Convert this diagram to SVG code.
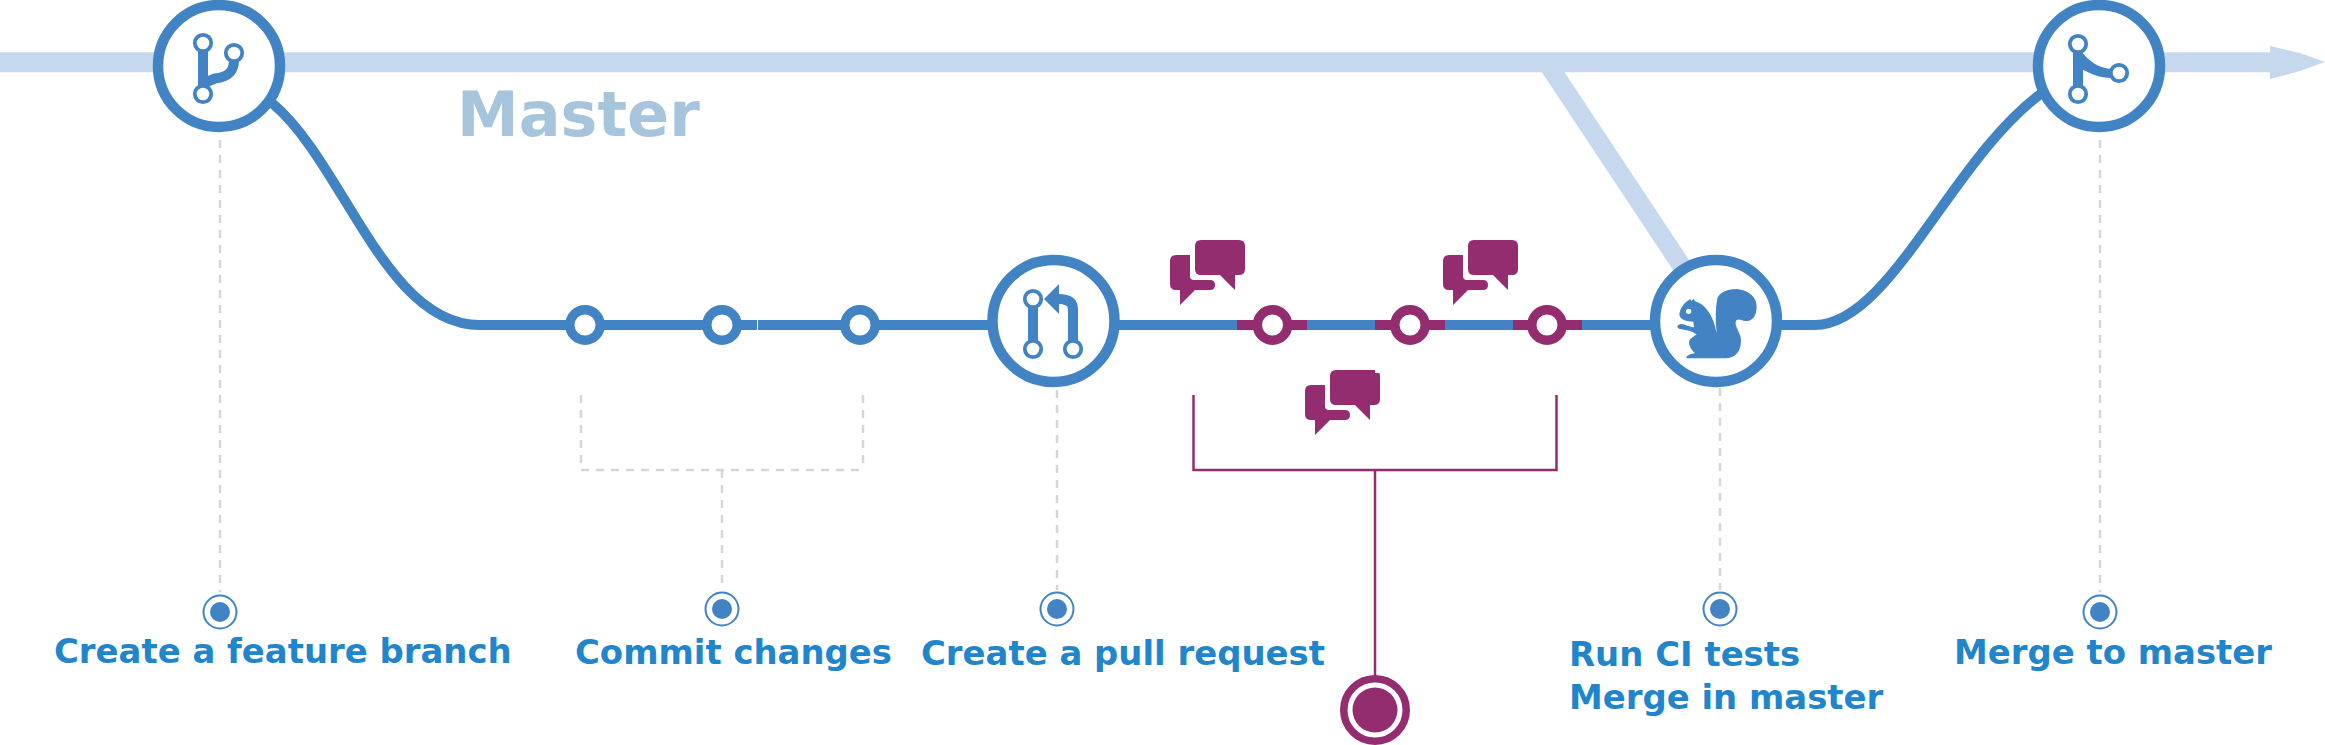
<svg xmlns="http://www.w3.org/2000/svg" width="2325" height="745" viewBox="0 0 2325 745">
<defs>
<style>
.hub{fill:#fff;stroke:#4283c4;stroke-width:10.5}
.c{fill:#fff;stroke:#4283c4;stroke-width:9.4}
.p{fill:#fff;stroke:#932d70;stroke-width:9.4}
.ic{fill:none;stroke:#4283c4;stroke-width:10}
.ico{fill:#fff;stroke:#4283c4;stroke-width:3.800}
.dash{fill:none;stroke:#d6d6d6;stroke-width:2.5;stroke-dasharray:8 7}
.pl{fill:none;stroke:#932d70;stroke-width:2.5}
.tring{fill:#fff;stroke:#4283c4;stroke-width:2}
.tdot{fill:#4283c4}
.lab{font-family:"DejaVu Sans",sans-serif;font-weight:700;font-size:33.9px;fill:#2185cb}
</style>
<g id="chat"><path fill="#932d70" d="M1176 255H1190V276Q1190 280 1194 280H1210Q1215 280 1215 285Q1215 290 1210 290H1195L1180 305V290H1176Q1170 290 1170 284V261Q1170 255 1176 255Z"/><path fill="#932d70" d="M1201 240H1239Q1245 240 1245 246V269Q1245 275 1239 275H1235V290L1220 275H1201Q1195 275 1195 269V246Q1195 240 1201 240Z"/></g>
</defs>
<g id="connectors">
<path fill="none" stroke="#c6d8ee" stroke-width="18.8" d="M1546.400 62L1691 280"/>
<path fill="none" stroke="#c6d8ee" stroke-width="20" d="M0 62.300H2272"/>
<path fill="#c6d8ee" d="M2270 46L2300 53L2325 62L2300 71L2270 79Z"/>
<path fill="none" stroke="#4283c4" stroke-width="10" d="M272 103C344 163 385 325 480 325H1000"/>
<path fill="none" stroke="#4283c4" stroke-width="10" d="M1100 325H1815C1890 325 1952 158 2042 93"/>
<path stroke="#fff" stroke-width="1" d="M757.500 320V330"/>
<path fill="none" stroke="#932d70" stroke-width="10" d="M1237 325H1307M1375 325H1445M1513 325H1582"/>
<path class="dash" d="M220 140V592"/>
<path class="dash" d="M581 395V470H863M863 395V470M722 470V590"/>
<path class="dash" d="M1057 390V590"/>
<path class="dash" d="M1720 388V590"/>
<path class="dash" d="M2100 140V592"/>
<path class="pl" d="M1193.500 395V470H1556.500V395M1375 470V680"/>
</g>
<g id="node-branch"><circle class="hub" cx="219" cy="66" r="61"/><path class="ic" d="M203 50V88"/><path class="ic" d="M204 83L215 78.500C228 77 234 72 234 60"/><circle class="ico" cx="203" cy="43" r="8.200"/><circle class="ico" cx="203" cy="94" r="8.200"/><circle class="ico" cx="234" cy="53" r="8.200"/></g>
<g id="commit-1"><circle class="c" cx="585" cy="325" r="15.200"/></g>
<g id="commit-2"><circle class="c" cx="722" cy="325" r="15.200"/></g>
<g id="commit-3"><circle class="c" cx="860" cy="325" r="15.200"/></g>
<g id="node-pr"><circle class="hub" cx="1053.500" cy="321" r="61"/><path class="ic" d="M1033 305V343M1073 343V309Q1073 299 1058 299"/><path fill="#4283c4" d="M1044 299L1059 284V314Z"/><circle class="ico" cx="1033" cy="299" r="8.200"/><circle class="ico" cx="1033" cy="349" r="8.200"/><circle class="ico" cx="1073" cy="349" r="8.200"/></g>
<g id="review-1"><circle class="p" cx="1272.500" cy="325" r="15.200"/><use href="#chat"/></g>
<g id="review-2"><circle class="p" cx="1410" cy="325" r="15.200"/></g>
<g id="review-3"><circle class="p" cx="1547" cy="325" r="15.200"/><use href="#chat" x="273"/></g>
<g id="chat-mid"><use href="#chat" x="135" y="130"/><path fill="#fff" d="M1375 369H1381V373H1375Z"/></g>
<g id="node-ci"><circle class="hub" cx="1716" cy="321" r="61"/><g transform="translate(1640 240) scale(.3333)"><path fill="#4283c4" d="M230 280C226 240 226 205 232 175C240 155 265 147 290 147C325 150 350 170 350 200C350 230 335 243 318 243C305 243 298 235 290 240C280 250 295 270 302 290C306 325 295 355 250 355H140C136 348 150 342 165 340C150 325 143 310 150 298L170 283C150 270 135 270 120 267C108 263 110 255 122 252C135 252 150 262 162 262L160 245C140 245 122 240 118 225C120 205 130 190 147 180L150 177L155 182L160 177L166 184C195 192 220 225 230 280Z"/><circle cx="146" cy="214" r="8" fill="#fff"/></g></g>
<g id="node-merge"><circle class="hub" cx="2099" cy="66" r="61"/><path class="ic" d="M2078 50V88"/><path fill="#4283c4" d="M2080 50C2090 62 2098 68 2112 69V78C2100 78 2090 74 2080 68Z"/><circle class="ico" cx="2078" cy="44" r="8.200"/><circle class="ico" cx="2078" cy="94" r="8.200"/><circle class="ico" cx="2119" cy="73" r="8.200"/></g>
<g id="end-review"><circle cx="1375" cy="710" r="31.250" fill="#fff" stroke="#932d70" stroke-width="7.500"/><circle cx="1375" cy="710" r="22.500" fill="#932d70"/></g>
<g id="step-branch"><circle class="tring" cx="220" cy="612" r="16.500"/><circle class="tdot" cx="220" cy="612" r="10"/><text class="lab" x="54" y="663">Create a feature branch</text></g>
<g id="step-commit"><circle class="tring" cx="722" cy="609" r="16.500"/><circle class="tdot" cx="722" cy="609" r="10"/><text class="lab" x="575" y="664">Commit changes</text></g>
<g id="step-pr"><circle class="tring" cx="1057" cy="609" r="16.500"/><circle class="tdot" cx="1057" cy="609" r="10"/><text class="lab" x="921" y="665">Create a pull request</text></g>
<g id="step-ci"><circle class="tring" cx="1720" cy="609" r="16.500"/><circle class="tdot" cx="1720" cy="609" r="10"/><text class="lab" x="1569" y="666">Run CI tests</text><text class="lab" x="1569" y="709">Merge in master</text></g>
<g id="step-merge"><circle class="tring" cx="2100" cy="612" r="16.500"/><circle class="tdot" cx="2100" cy="612" r="10"/><text class="lab" x="1954" y="664">Merge to master</text></g>
<g id="label-master"><text x="457" y="136" font-family="'DejaVu Sans',sans-serif" font-weight="700" font-size="62" fill="#a7c4dd">Master</text></g>
</svg>
